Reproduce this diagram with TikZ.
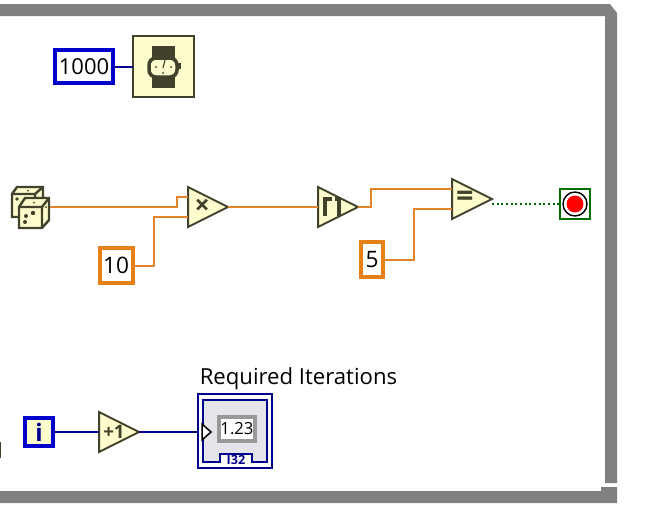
\documentclass[tikz,border=0pt]{standalone}
\usepackage{fontspec}
\setmainfont{Open Sans}
\usetikzlibrary{positioning,shapes.geometric}
\definecolor{wireorange}{RGB}{226,133,40}
\definecolor{boxorange}{RGB}{232,128,24}
\definecolor{boxblue}{RGB}{0,0,204}
\definecolor{wireblue}{RGB}{0,0,140}
\definecolor{iconline}{RGB}{66,66,44}
\definecolor{iconfill}{RGB}{252,252,205}
\definecolor{framegray}{RGB}{128,128,128}
\definecolor{stopgreen}{RGB}{0,110,0}
\definecolor{panelgray}{RGB}{228,228,234}
\newcommand{\px}{0.75pt}
\begin{document}
\begin{tikzpicture}[
  x=\px, y=-\px,
  constant/.style={draw=#1, line width=4*\px, fill=white, inner sep=0pt, outer sep=0pt,
                   font=\fontsize{16.5}{18}\selectfont},
  prim/.style={draw=iconline, line width=2*\px, fill=iconfill, isosceles triangle,
               isosceles triangle stretches, shape border rotate=0, minimum width=40*\px,
               minimum height=40*\px, inner sep=0pt, outer sep=0pt, anchor=lower side,
               text=iconline, font=\bfseries\fontsize{14}{14}\selectfont},
  wire/.style={draw=wireorange, line width=2*\px},
  numwire/.style={draw=wireblue, line width=2*\px},
  ]
  \useasboundingbox (0,0) rectangle (662,514);

  % diagram frame
  \fill[framegray] (0,4) -- (610,4) -- (613,8) -- (617,13) -- (617,483) -- (605,483) -- (605,16) -- (0,16) -- cycle;
  \fill[framegray] (0,491) -- (601,491) -- (601,487) -- (617,487) -- (617,503) -- (0,503) -- cycle;
  \draw[line width=1*\px, draw=iconline] (0.5,442) -- (0.5,458);

  % wait timer
  \node[constant=boxblue, minimum width=58*\px, minimum height=33*\px] (delay) at (84,66.5) {1000};
  \node[draw=iconline, line width=2*\px, fill=iconfill, minimum width=61*\px, minimum height=61*\px,
        inner sep=0pt, outer sep=0pt, right=19.5*\px of delay.east, anchor=west] (timer) {};
  \fill[iconline] (152,46) rectangle (175,88);
  \draw[iconline, line width=3.5*\px, fill=iconfill, rounded corners=7*\px] (149,58) rectangle (177,77);
  \fill[iconline] (178,63) rectangle (181,69);
  \draw[iconline, line width=1.2*\px] (163,68) -- (165,60) (157,67) -- (155,67) (170,67) -- (172,67) (163,72) -- (163,74);
  \draw[numwire] (delay) -- (delay -| timer.west);

  % random number
  \node[minimum width=39*\px, minimum height=42*\px, inner sep=0pt, outer sep=0pt] (dice) at (30,207) {};
  \begin{scope}[draw=iconline, line width=2.4*\px, fill=iconfill]
    \filldraw (12,194) -- (17,187) -- (43,187) -- (43,205) -- (35,217) -- (12,217) -- cycle;
    \draw (12,194) -- (35,194) -- (43,187) (35,194) -- (35,217);
    \filldraw (19,207) -- (25,198) -- (49,198) -- (49,220) -- (42,228) -- (19,228) -- cycle;
    \draw (19,207) -- (42,207) -- (49,198) (42,207) -- (42,228);
  \end{scope}
  \fill[iconline] (17,199) circle (1.8*\px) (26,216) circle (2*\px) (33,213) circle (2.2*\px) (25,222) circle (2*\px)
    (46,207) circle (1*\px) (28,190.5) circle (1*\px) (34,202.5) circle (1*\px);

  \node[prim, font=\bfseries\fontsize{20}{20}\selectfont] (mult) at (188,207) {\makebox[0pt]{\hspace*{10pt}×}};
  \node[constant=boxorange, minimum width=33*\px, minimum height=35*\px, font=\fontsize{17}{18}\selectfont] (ten) at (116,265.5) {10};
  \node[prim] (ceil) at (318,207) {};
  \draw[iconline, line width=4*\px, line cap=butt] (325,216) -- (325,199) -- (332,199);
  \draw[iconline, line width=4*\px, line cap=butt] (335,199) -- (339,199) -- (339,216);
  \node[prim, font=\bfseries\fontsize{23}{23}\selectfont] (equal) at (452,199) {\makebox[0pt]{\hspace*{8pt}\raisebox{-2pt}{=}}};
  \node[constant=boxorange, minimum width=22*\px, minimum height=35*\px, font=\fontsize{17}{18}\selectfont] (five) at (372,259.5) {5};
  \node[draw=stopgreen, line width=2*\px, fill=white, minimum width=30*\px, minimum height=30*\px,
        inner sep=0pt, outer sep=0pt] (stop) at (575,204) {};
  \draw[black, line width=1.4*\px, fill=white] (575,204) circle (12*\px);
  \fill[red] (575,204) circle (8.5*\px);

  \draw[wire] (dice.east) -- ++(127,0) |- ([yshift=7.5pt]mult.lower side);
  \draw[wire] (ten.east) -- ++(21,0) |- ([yshift=-7.5pt]mult.lower side);
  \draw[wire] (mult.apex) -- (ceil.lower side);
  \draw[wire] (ceil.apex) -- ++(13,0) |- ([yshift=7.5pt]equal.lower side);
  \draw[wire] (five.east) -- ++(31,0) |- ([yshift=-7.5pt]equal.lower side);
  \draw[stopgreen, line width=2*\px, dotted] ([yshift=-3.75pt]equal.apex) -- (stop.west);

  % loop counter
  \node[constant=boxblue, minimum width=28*\px, minimum height=28*\px, fill=iconfill,
        font=\bfseries\fontsize{18}{18}\selectfont, text=wireblue] (iter) at (39,432) {i};
  \node[prim] (incr) at (99,432) {\makebox[0pt]{\hspace*{10pt}+1}};
  \node[draw=wireblue, line width=2*\px, fill=white, minimum width=74*\px, minimum height=74*\px,
        inner sep=0pt, outer sep=0pt] (result) at (235,431) {};
  \draw[wireblue, line width=2*\px, fill=panelgray] (203,400) -- (267,400) -- (267,462) -- (252,462) -- (252,454)
    -- (220,454) -- (220,462) -- (203,462) -- cycle;
  \node[fill=white, draw=black!40, line width=3.4*\px, minimum width=36*\px, minimum height=24*\px,
        inner sep=0pt, font=\fontsize{12.5}{14}\selectfont] (display) at (237,429) {1.23};
  \node[font=\bfseries\fontsize{9.5}{9}\selectfont, text=wireblue, inner sep=0pt] (rep) at (236,460) {I32};
  \draw[black, line width=1.5*\px, fill=white] (202,424) -- (211,432) -- (202,440) -- cycle;
  \node[anchor=south west, inner sep=0pt, font=\fontsize{16.6}{18}\selectfont] (caption) at (199.5,390) {Required Iterations};

  \draw[numwire] (iter) -- (incr.lower side);
  \draw[numwire] (incr.apex) -- (incr.apex -| result.west);
\end{tikzpicture}
\end{document}
